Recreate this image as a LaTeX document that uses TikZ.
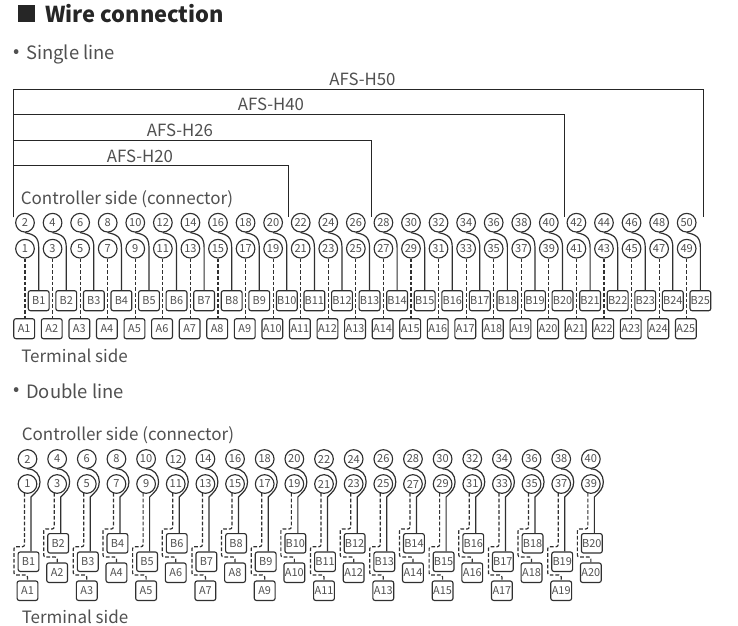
\documentclass[tikz,border=0pt]{standalone}
\usepackage{fontspec}
\setmainfont{Noto Sans CJK JP}
\usetikzlibrary{calc}
\definecolor{ink}{HTML}{303030}
\definecolor{txt}{HTML}{505050}
\tikzset{
  x=0.75pt,y=-0.75pt,
  pin/.style={circle,draw=ink,line width=0.85pt,minimum size=14pt,inner sep=0pt,font=\fontsize{8.3}{9}\selectfont,text=txt},
  term/.style={rectangle,rounded corners=1.6pt,draw=ink,line width=0.85pt,minimum width=15.6pt,minimum height=15pt,inner sep=0pt,font=\fontsize{8.2}{9}\selectfont,text=txt},
  wire/.style={draw=ink,line width=0.9pt},
  dashwire/.style={draw=ink,line width=0.9pt,dash pattern=on 2.8pt off 1.5pt},
  bracket/.style={draw=black!85,line width=0.75pt},
  captext/.style={anchor=west,inner sep=0pt,font=\fontsize{12.75}{15}\selectfont,text=txt},
  headtext/.style={anchor=west,inner sep=0pt,font=\fontsize{13.8}{15}\selectfont,text=txt},
  model/.style={inner sep=0pt,font=\fontsize{12.6}{15}\selectfont,text=txt},
}
\begin{document}
\begin{tikzpicture}
\useasboundingbox (0,0) rectangle (738,625);
\fill[white] (0,0) rectangle (738,625);
% headings
\fill[black!85] (18,5) rectangle (35,22);
\node[anchor=west,inner sep=0pt,font=\bfseries\fontsize{16.4}{20}\selectfont,text=black!85] (title) at (45,14) {Wire connection};
\node[headtext] (bul1) at (13,54) {•};
\node[headtext] (single) at (26,54) {Single line};
\node[headtext] (bul2) at (13,391.5) {•};
\node[headtext] (double) at (26,391.5) {Double line};
\node[captext] (ctrl1) at (20.5,199) {Controller side (connector)};
\node[captext] (term1) at (21,356) {Terminal side};
\node[captext] (ctrl2) at (21.5,435) {Controller side (connector)};
\node[captext] (term2) at (21.5,617) {Terminal side};
% model brackets
\node[model] (h50) at (362.5,79) {AFS-H50};
\node[model] (h40) at (271,104.5) {AFS-H40};
\node[model] (h26) at (180,130.5) {AFS-H26};
\node[model] (h20) at (140,156) {AFS-H20};
\coordinate (bl) at (13,217);
\foreach \nm/\xx/\yy/\ee in {a/703/89/217,b/564/114/217,c/371/140/217,d/288/165/217}{
  \coordinate (\nm s) at (13,\yy);
  \coordinate (\nm t) at (\xx,\yy);
  \coordinate (\nm e) at (\xx,\ee);
  \draw[bracket] (bl) -- (\nm s) -- (\nm t) -- (\nm e);
}
% single line
\foreach \k in {1,...,25}{
  \pgfmathsetmacro{\cx}{25+27.57*(\k-1)}
  \pgfmathtruncatemacro{\ev}{2*\k}
  \pgfmathtruncatemacro{\od}{2*\k-1}
  \node[pin] (se\k) at (\cx,222.7) {\ev};
  \node[pin] (so\k) at (\cx,248.7) {\od};
  \node[term] (sb\k) at (\cx+13.7,300.7) {B\k};
  \node[term] (sa\k) at (\cx-0.8,328.7) {A\k};
  \coordinate (st\k) at (\cx,0);
  \draw[wire] (se\k.south) .. controls +(9,2) and +(0,-11) .. ++(13.7,15) -- (sb\k.north);
  \draw[dashwire] (so\k.south) -- (st\k |- sa\k.north);
}
% double line
\foreach \k in {1,...,20}{
  \pgfmathsetmacro{\cx}{27.5+29.65*(\k-1)}
  \pgfmathtruncatemacro{\ev}{2*\k}
  \pgfmathtruncatemacro{\od}{2*\k-1}
  \pgfmathtruncatemacro{\isodd}{mod(\k,2)}
  \ifnum\isodd=1
    \def\by{561.7}\def\ay{590.7}\def\ya{546.7}\def\yb{575}
  \else
    \def\by{543.3}\def\ay{572.7}\def\ya{529}\def\yb{557}
  \fi
  \node[pin] (de\k) at (\cx,459) {\ev};
  \node[pin] (do\k) at (\cx,484) {\od};
  \node[term,minimum height=14.6pt] (db\k) at (\cx+1,\by) {B\k};
  \node[term,minimum height=14.6pt] (da\k) at (\cx,\ay) {A\k};
  \coordinate (dw-\k) at (\cx+3.5,497);
  \coordinate (dd-\k) at (\cx-3,493);
  \coordinate (dp-a-\k) at (\cx-3,\ya);
  \coordinate (dp-b-\k) at (\cx-13.5,\ya);
  \coordinate (dp-c-\k) at (\cx-13.5,\yb);
  \coordinate (dp-d-\k) at (\cx,\yb);
  \draw[wire] (de\k.south) .. controls +(8,0) and +(0,-7) .. ++(12.5,13) .. controls +(0,7) and +(5,-5) .. (dw-\k) -- (dw-\k |- db\k.north);
  \draw[dashwire,rounded corners=1.5pt] (dd-\k) -- (dp-a-\k) -- (dp-b-\k) -- (dp-c-\k) -- (dp-d-\k) -- (da\k.north);
}
\end{tikzpicture}
\end{document}
